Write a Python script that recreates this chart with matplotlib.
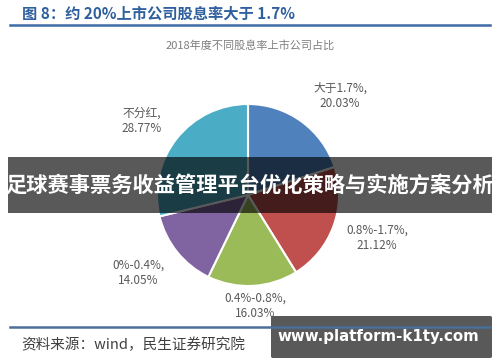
import matplotlib
matplotlib.use("Agg")
import matplotlib.pyplot as plt
from matplotlib.patches import FancyBboxPatch, Rectangle

plt.rcParams['font.family'] = ['Noto Sans CJK SC', 'DejaVu Sans']

categories = ["大于1.7%", "0.8%-1.7%", "0.4%-0.8%", "0%-0.4%", "不分红"]
values = [20.03, 21.12, 16.03, 14.05, 28.77]
colors = ["#4f81bd", "#c0504d", "#9bbb59", "#8064a2", "#4bacc6"]
title = "图 8：约 20%上市公司股息率大于 1.7%"
subtitle = "2018年度不同股息率上市公司占比"
source = "资料来源：wind，民生证券研究院"
banner = "足球赛事票务收益管理平台优化策略与实施方案分析"
watermark = "www.platform-k1ty.com"

W, H = 500, 362
fig = plt.figure(figsize=(W / 100, H / 100), dpi=100)
fig.patch.set_facecolor("white")

def fx(px):
    return px / W

def fy(py):
    return 1 - py / H

# pie axes: center (248,195) px, radius 91 px
cx, cy, r = 248, 195, 91
ax = fig.add_axes([fx(cx - r), fy(cy + r), 2 * r / W, 2 * r / H])
wedges, _ = ax.pie(values, colors=colors, startangle=90, counterclock=False,
                   wedgeprops=dict(edgecolor="white", linewidth=1.5))
ax.set_xlim(-1, 1)
ax.set_ylim(-1, 1)
ax.set_aspect("auto")
ax.axis("off")

# label positions in pixels
label_pos = [(340, 96), (377, 238), (255, 306), (138, 273), (142, 121)]
for name, val, (lx, ly) in zip(categories, values, label_pos):
    fig.text(fx(lx), fy(ly), f"{name},\n{val:.2f}%", ha="center", va="center",
             fontsize=8.5, color="#595959", linespacing=1.25)

# title and rules
fig.text(fx(22), fy(14), title, ha="left", va="center", fontsize=11,
         fontweight="bold", color="#2f5f9e")
fig.add_artist(plt.Line2D([fx(10), fx(490)], [fy(24.5), fy(24.5)], color="#3e6aa6",
                          linewidth=1.8, transform=fig.transFigure))
fig.text(fx(250), fy(45), subtitle, ha="center", va="center", fontsize=8,
         color="#7f7f7f")
fig.add_artist(plt.Line2D([fx(10), fx(490)], [fy(327), fy(327)], color="#4a6f9a",
                          linewidth=1.8, transform=fig.transFigure))
fig.text(fx(21), fy(345), source, ha="left", va="center", fontsize=10.5,
         color="#404040")

# dark banner
fig.add_artist(Rectangle((fx(8), fy(213)), fx(492) - fx(8), fy(157) - fy(213),
                         transform=fig.transFigure, facecolor="black", alpha=0.65,
                         edgecolor="none"))
fig.text(fx(250), fy(185), banner, ha="center", va="center", fontsize=15.3,
         fontweight="bold", color="white")

# watermark box
fig.add_artist(FancyBboxPatch((fx(271), fy(358)), fx(492) - fx(271), fy(316) - fy(358),
                              boxstyle="round,pad=0,rounding_size=0.004",
                              transform=fig.transFigure, facecolor="black", alpha=0.65,
                              edgecolor="none"))
fig.text(fx(378), fy(336), watermark, ha="center", va="center", fontsize=10.8,
         fontweight="bold", color="white", family=["DejaVu Sans"])

fig.savefig("out.png", dpi=100)
